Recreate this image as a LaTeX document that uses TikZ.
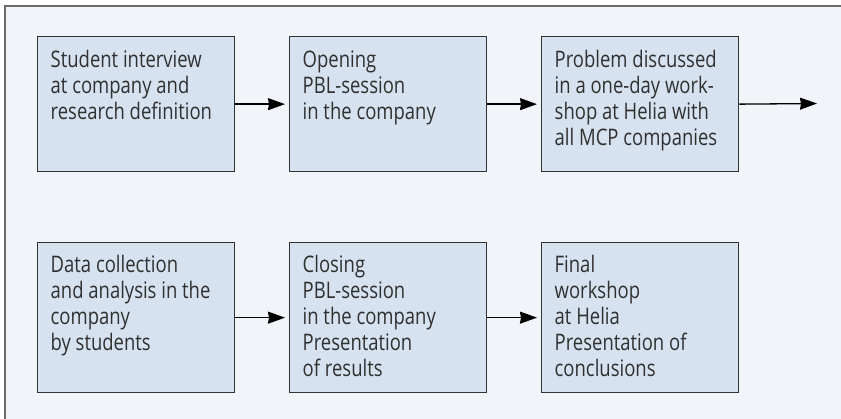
\documentclass[tikz,border=0pt]{standalone}
\usepackage{fontspec}
\setmainfont[FakeStretch=0.81]{Open Sans}
\usetikzlibrary{arrows.meta}
\definecolor{panelbg}{HTML}{F1F4F9}
\definecolor{boxfill}{HTML}{D6E2F0}
\definecolor{boxline}{HTML}{333333}
\definecolor{frameline}{HTML}{6A6A6A}
\definecolor{txt}{HTML}{303030}
\tikzset{
  stage/.style={draw=boxline, fill=boxfill, line width=1.3pt, inner sep=0pt,
    minimum width=197pt, anchor=north west},
  toprow/.style={stage, minimum height=135pt},
  botrow/.style={stage, minimum height=150pt},
  caption/.style={anchor=north west, inner sep=0pt, align=left, text=txt,
    font=\fontsize{22.8pt}{26pt}\selectfont},
  flow/.style={line width=1.3pt, draw=black,
    -{Stealth[length=17pt,width=12pt,inset=1pt]}, shorten >=4pt},
}
\begin{document}
\begin{tikzpicture}[x=1pt, y=-1pt]
  \useasboundingbox (0,0) rectangle (841,419);
  % panel background with its top and left rules
  \fill[panelbg] (5,6) rectangle (841,419);
  \draw[frameline, line width=2pt] (841,6) -- (5,6) -- (5,419);

  % process stages
  \node[toprow] (s1) at (37,36) {};
  \node[toprow] (s2) at (289,36) {};
  \node[toprow] (s3) at (541,36) {};
  \node[botrow] (s4) at (37,242) {};
  \node[botrow] (s5) at (289,242) {};
  \node[botrow] (s6) at (541,242) {};

  % stage texts, set flush left from the top corner
  \node[caption] (c1) at ([shift={(13.5,13)}]s1.north west)
    {\strut Student interview\\at company and\\research definition};
  \node[caption] (c2) at ([shift={(13.5,13)}]s2.north west)
    {\strut Opening\\PBL-session\\in the company};
  \node[caption] (c3) at ([shift={(13.5,13)}]s3.north west)
    {\strut Problem discussed\\in a one-day work-\\shop at Helia with\\all MCP companies};
  \node[caption] (c4) at ([shift={(13.5,12)}]s4.north west)
    {\strut Data collection\\and analysis in the\\company\\by students};
  \node[caption] (c5) at ([shift={(13.5,12)}]s5.north west)
    {\strut Closing\\PBL-session\\in the company\\Presentation\\of results};
  \node[caption] (c6) at ([shift={(13.5,12)}]s6.north west)
    {\strut Final\\workshop\\at Helia\\Presentation of\\conclusions};

  % connectors
  \coordinate (out) at (821,103.5);
  \draw[flow] (s1.east) -- (s2.west);
  \draw[flow] (s2.east) -- (s3.west);
  \draw[flow] (s3.east) -- (out);
  \draw[flow] (s4.east) -- (s5.west);
  \draw[flow] (s5.east) -- (s6.west);
\end{tikzpicture}
\end{document}
